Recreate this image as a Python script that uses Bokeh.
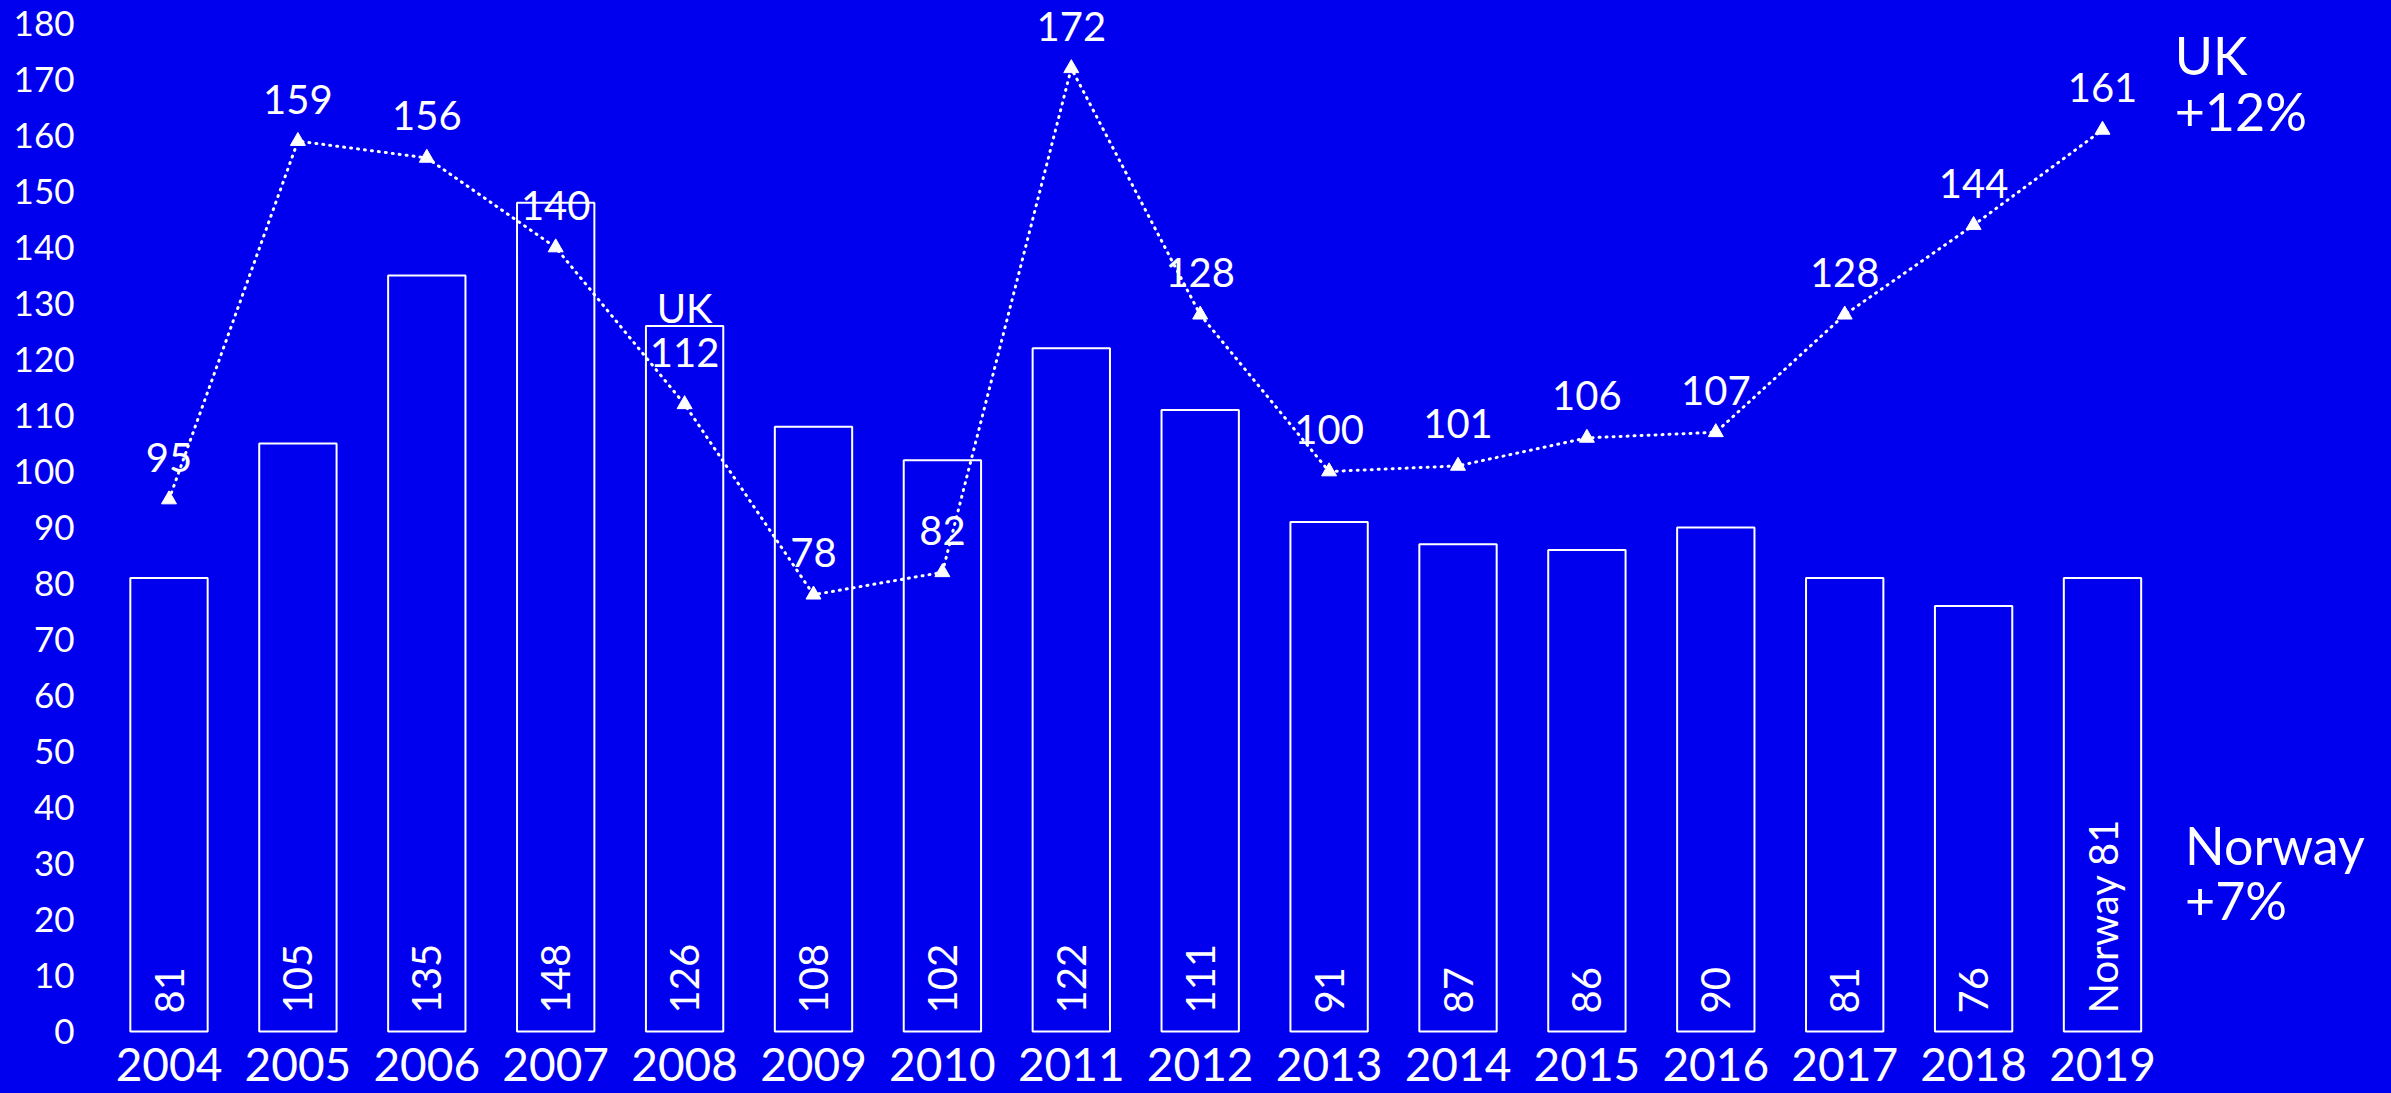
import math
from bokeh.plotting import figure
from bokeh.models import Range1d, FixedTicker, ColumnDataSource
from bokeh.core.properties import value
from bokeh.embed import file_html
from bokeh.resources import INLINE

years = [2004, 2005, 2006, 2007, 2008, 2009, 2010, 2011, 2012, 2013, 2014, 2015, 2016, 2017, 2018, 2019]
norway = [81, 105, 135, 148, 126, 108, 102, 122, 111, 91, 87, 86, 90, 81, 76, 81]
uk = [95, 159, 156, 140, 112, 78, 82, 172, 128, 100, 101, 106, 107, 128, 144, 161]
norway_labels = ["81", "105", "135", "148", "126", "108", "102", "122", "111", "91", "87", "86", "90", "81", "76", "Norway 81"]
uk_labels = ["95", "159", "156", "140", "112", "78", "82", "172", "128", "100", "101", "106", "107", "128", "144", "161"]
uk_series_tag = "UK"
uk_tag_index = 4
y_ticks = list(range(0, 181, 10))
right_labels = ["UK", "+12%", "Norway", "+7%"]

BG = "#0000EE"
FG = "#FFFFFF"
FONT = "Lato"

xs = list(range(len(years)))

p = figure(width=2391, height=1093,
           x_range=Range1d(-0.609, 17.242), y_range=Range1d(-1.07, 182.32),
           output_backend="svg", toolbar_location=None,
           min_border_left=90, min_border_right=0, min_border_top=10, min_border_bottom=56)
p.background_fill_color = BG
p.border_fill_color = BG
p.outline_line_color = None
p.xgrid.visible = False
p.ygrid.visible = False

# bars
p.vbar(x=xs, top=norway, bottom=0, width=0.6, fill_color=BG, line_color=FG, line_width=2)

# bar labels (rotated)
p.text(x=xs, y=[0] * len(xs), text=norway_labels, angle=math.pi / 2,
       text_align="left", text_baseline="middle", y_offset=-18,
       text_color=FG, text_font=value(FONT), text_font_size="40px")

# UK line
p.line(x=xs, y=uk, line_color=FG, line_width=3, line_dash="1 6", line_cap="round")
p.scatter(x=xs, y=uk, marker="triangle", size=15, fill_color=FG, line_color=FG)

offs = [-42] * len(xs)
offs[uk_tag_index] = -52
p.text(x=xs, y=uk, text=uk_labels, y_offset=offs, text_align="center",
       text_baseline="alphabetic", text_color=FG, text_font=value(FONT), text_font_size="40px")
p.text(x=[xs[uk_tag_index]], y=[uk[uk_tag_index]], text=[uk_series_tag], y_offset=-96,
       text_align="center", text_baseline="alphabetic", text_color=FG,
       text_font=value(FONT), text_font_size="40px")

# right side annotations
rs = ColumnDataSource(dict(x=[15.56, 15.56, 15.64, 15.64], y=[171.3, 161.25, 30.2, 20.4], t=right_labels))
p.text(x="x", y="y", text="t", source=rs, text_align="left", text_baseline="alphabetic",
       y_offset=-17, text_color=FG, text_font=value(FONT), text_font_size="52px")

# axes
p.xaxis.ticker = FixedTicker(ticks=xs)
p.xaxis.major_label_overrides = {i: str(y) for i, y in zip(xs, years)}
p.yaxis.ticker = FixedTicker(ticks=y_ticks)
for ax in (p.xaxis[0], p.yaxis[0]):
    ax.axis_line_color = None
    ax.major_tick_line_color = None
    ax.minor_tick_line_color = None
    ax.major_tick_out = 0
    ax.major_tick_in = 0
    ax.minor_tick_out = 0
    ax.major_label_text_color = FG
    ax.major_label_text_font = FONT
p.xaxis.major_label_text_font_size = "46px"
p.xaxis.major_label_standoff = 10
p.yaxis.major_label_text_font_size = "35px"
p.yaxis.major_label_standoff = 16

html = file_html(p, INLINE)
html = html.replace("</head>", "<style>html, body { background-color: %s !important; margin: 0; }</style></head>" % BG, 1)
open("out.html", "w").write(html)
